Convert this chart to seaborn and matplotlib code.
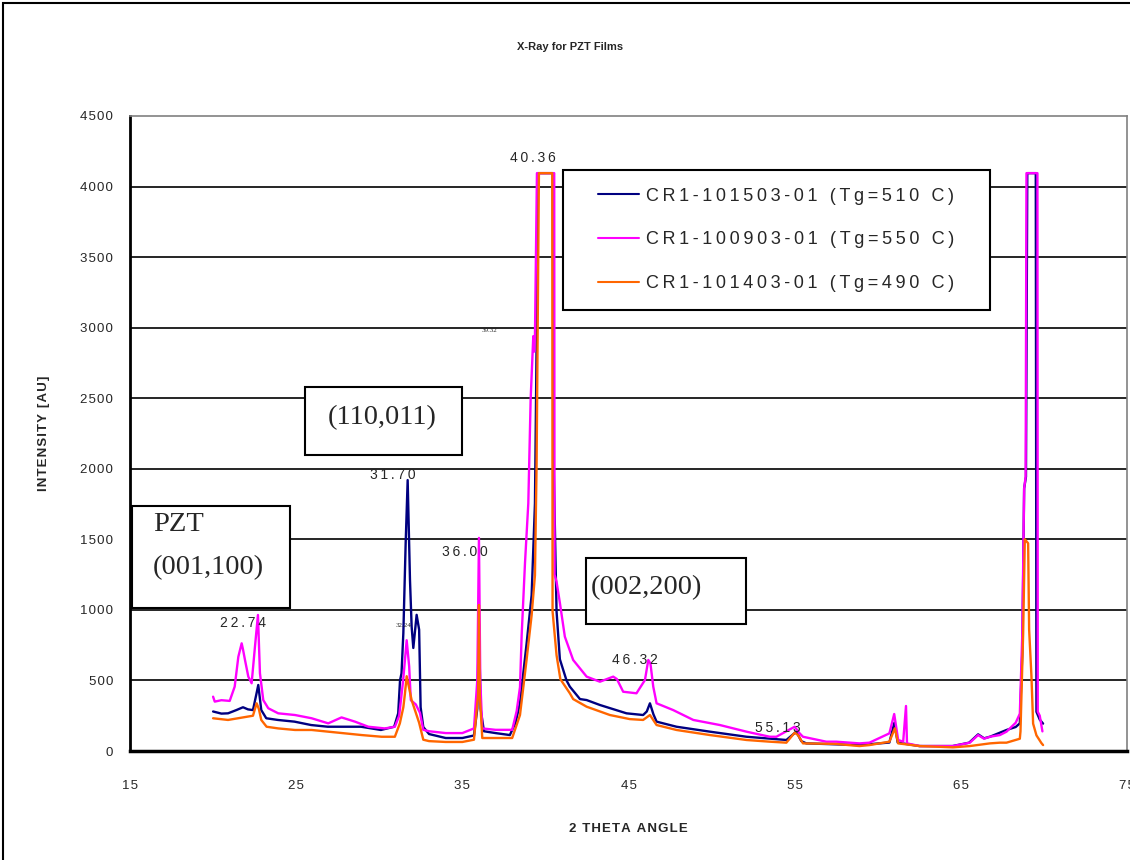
import pandas as pd
import matplotlib.pyplot as plt
import seaborn as sns
from matplotlib.patches import Rectangle

# ==========================================
# 1. DATA
# ==========================================
sample_names = ["CR1-101503-01 (Tg=510 C)",
                "CR1-100903-01 (Tg=550 C)",
                "CR1-101403-01 (Tg=490 C)"]
line_colors = ["#000080", "#FF00FF", "#FF6600"]

blue_theta = [20.0, 20.5, 20.9, 21.4, 21.8, 22.1, 22.4, 22.6, 22.72, 22.9, 23.2, 23.9,
              24.9, 25.9, 26.9, 27.9, 28.9, 30.1, 30.9, 31.14, 31.25, 31.34, 31.45,
              31.59, 31.71, 31.85, 31.95, 32.05, 32.25, 32.4, 32.49, 32.65, 33.0, 34.0,
              35.0, 35.7, 35.9, 36.0, 36.1, 36.3, 37.0, 37.86, 38.2, 38.47, 38.87, 39.17,
              39.37, 39.47, 39.55, 40.45, 40.5, 40.67, 40.87, 41.27, 41.47, 42.08, 42.48,
              43.28, 44.88, 45.88, 46.1, 46.29, 46.5, 46.69, 47.89, 49.9, 52.1, 54.5,
              55.1, 55.4, 55.7, 58.9, 60.7, 61.0, 61.2, 61.7, 62.5, 64.5, 65.5, 66.04,
              66.4, 66.75, 67.75, 68.3, 68.55, 68.7, 68.81, 68.92, 69.0, 69.51, 69.55,
              69.75, 69.95]
blue_counts = [280, 265, 267, 290, 310, 295, 290, 400, 468, 290, 232, 220,
               208, 184, 172, 172, 172, 149, 172, 267, 500, 551, 835,
               1475, 1920, 1210, 880, 730, 965, 860, 310, 170, 120, 92,
               92, 110, 300, 900, 300, 140, 127, 113, 200, 340, 764, 1104,
               1755, 2887, 4095, 4095, 2000, 990, 650, 500, 456, 368, 361,
               326, 267, 255, 280, 338, 260, 208, 172, 137, 101, 78,
               137, 70, 54, 42, 60, 200, 60, 50, 35, 35, 59, 118,
               90, 101, 149, 170, 196, 700, 1861, 1944, 4095, 4095, 278,
               222, 194]

magenta_theta = [20.0, 20.1, 20.5, 21.0, 21.3, 21.52, 21.72, 21.8, 21.92, 22.12, 22.32,
                 22.52, 22.7, 22.82, 23.02, 23.32, 23.92, 24.93, 25.93, 26.93, 27.73,
                 28.54, 29.34, 30.34, 30.94, 31.2, 31.44, 31.65, 31.8, 31.9, 32.2, 32.45,
                 32.65, 33.0, 34.0, 35.0, 35.7, 35.9, 36.0, 36.08, 36.2, 37.0, 38.0,
                 38.27, 38.47, 38.57, 38.77, 38.97, 39.11, 39.27, 39.32, 39.37, 39.49,
                 40.53, 40.55, 40.67, 40.87, 41.17, 41.67, 42.48, 43.28, 44.08, 44.3,
                 44.68, 45.48, 45.99, 46.19, 46.32, 46.49, 46.69, 47.69, 48.9, 50.5,
                 52.1, 53.5, 53.9, 55.0, 55.3, 55.5, 56.9, 57.5, 58.9, 59.5, 60.7, 60.99,
                 61.23, 61.53, 61.7, 61.76, 62.53, 64.53, 65.54, 66.04, 66.4, 66.75,
                 67.35, 67.75, 68.3, 68.55, 68.7, 68.81, 68.9, 68.95, 69.61, 69.63,
                 69.75, 69.91]
magenta_counts = [385, 350, 360, 355, 456, 668, 763, 720, 645, 527, 480,
                  739, 964, 551, 361, 303, 267, 255, 232, 196, 238,
                  208, 172, 160, 172, 250, 503, 785, 600, 360, 330, 270,
                  150, 140, 127, 127, 160, 500, 1510, 500, 160, 150, 150,
                  283, 453, 820, 1330, 1755, 2490, 2940, 2830, 2940, 4095,
                  4095, 1250, 1200, 1050, 810, 645, 527, 491, 527, 510,
                  420, 409, 503, 645, 620, 456, 338, 290, 220, 184,
                  137, 101, 101, 172, 125, 101, 66, 66, 54, 59, 125, 262,
                  78, 66, 319, 54, 35, 35, 59, 113, 87, 101,
                  113, 137, 200, 264, 833, 1861, 1944, 4095, 4095, 278,
                  250, 139]

orange_theta = [20.0, 20.9, 21.8, 22.4, 22.62, 22.75, 22.9, 23.22, 23.92, 24.93, 25.93,
                26.93, 27.94, 28.94, 30.14, 30.94, 31.24, 31.45, 31.54, 31.65, 31.95,
                32.4, 32.65, 33.0, 34.0, 35.0, 35.7, 35.95, 36.0, 36.05, 36.2, 37.0,
                38.0, 38.47, 38.87, 39.17, 39.37, 39.47, 39.61, 40.41, 40.43, 40.67,
                40.9, 41.47, 41.67, 42.48, 43.88, 45.08, 45.88, 46.29, 46.69, 47.89,
                49.9, 52.1, 53.5, 54.5, 55.0, 55.2, 55.5, 57.5, 58.9, 59.5, 60.7, 61.03,
                61.23, 62.53, 64.53, 65.54, 66.75, 67.35, 67.75, 68.55, 68.59, 68.75,
                68.85, 68.95, 69.05, 69.11, 69.25, 69.35, 69.55, 69.85, 69.95]
orange_counts = [232, 220, 238, 250, 338, 300, 220, 172, 160, 149, 149,
                 137, 125, 113, 101, 101, 196, 310, 400, 530, 360,
                 200, 80, 70, 64, 64, 80, 400, 1035, 400, 92, 92,
                 92, 255, 650, 962, 1245, 2038, 4095, 4095, 990, 679,
                 509, 409, 368, 314, 255, 226, 220, 255, 184, 149,
                 113, 78, 66, 59, 130, 113, 54, 50, 35, 42, 66, 161,
                 54, 35, 26, 35, 54, 59, 59, 87, 139, 833,
                 1500, 1486, 1472, 861, 528, 194, 111, 56, 42]

peak_labels = ["22.74", "31.70", "36.00", "40.36", "46.32", "55.13"]
peak_label_x = [21.8, 30.83, 35.18, 39.27, 45.39, 53.96]
peak_label_y = [907, 1956, 1410, 4203, 645, 163]

x_ticks = [15, 25, 35, 45, 55, 65, 75]
y_ticks = [0, 500, 1000, 1500, 2000, 2500, 3000, 3500, 4000, 4500]

frames = []
for name, tt, cc in zip(sample_names,
                        [blue_theta, magenta_theta, orange_theta],
                        [blue_counts, magenta_counts, orange_counts]):
    frames.append(pd.DataFrame({"two_theta": tt, "intensity": cc, "sample": name}))
df = pd.concat(frames, ignore_index=True)


def spaced(s, gap="\u2009"):
    # the original Excel chart uses letter-spaced text
    return gap.join(s)


HAIR = "\u200a"

# ==========================================
# 2. PLOT
# ==========================================
sns.set_theme(style="white")
plt.rcParams["font.family"] = ["Liberation Sans", "DejaVu Sans"]

fig = plt.figure(figsize=(11.3, 8.6), dpi=100)
ax = fig.add_axes([130 / 1130, 109 / 860, 997 / 1130, 635 / 860])

sns.lineplot(data=df, x="two_theta", y="intensity", hue="sample",
             hue_order=sample_names, palette=line_colors, sort=False,
             estimator=None, linewidth=1.7, ax=ax, zorder=3)

ax.set_xlim(15, 75)
ax.set_ylim(0, 4500)
ax.set_xticks(x_ticks)
ax.set_xticklabels([spaced(str(t), HAIR) for t in x_ticks], fontsize=9.5)
ax.set_yticks(y_ticks)
ax.set_yticklabels([spaced(str(t), HAIR) for t in y_ticks], fontsize=9.5)
ax.tick_params(axis="x", direction="out", length=5, width=1.5, pad=16, color="black")
ax.tick_params(axis="y", direction="out", length=5, width=1.5, pad=7, color="black")

ax.yaxis.grid(True, color="black", linewidth=1.2, zorder=1)
ax.set_axisbelow(True)
ax.get_ygridlines()[-1].set_visible(False)

ax.spines["left"].set_color("black")
ax.spines["left"].set_linewidth(2)
ax.spines["bottom"].set_color("black")
ax.spines["bottom"].set_linewidth(2.5)
ax.spines["top"].set_color("#808080")
ax.spines["right"].set_color("#808080")
ax.spines["top"].set_linewidth(1.2)
ax.spines["right"].set_linewidth(1.2)

ax.set_xlabel(spaced("2 THETA ANGLE", HAIR), fontsize=9.5, fontweight="bold",
              labelpad=22)
ax.set_ylabel(spaced("INTENSITY [AU]", HAIR), fontsize=9.5, fontweight="bold",
              labelpad=22)
fig.text(570 / 1130, 1 - 47 / 860, "X-Ray for PZT Films",
         fontsize=8, fontweight="bold", ha="center", va="center")

# peak position labels
for lab, px, py in zip(peak_labels, peak_label_x, peak_label_y):
    ax.text(px, py, spaced(lab), fontsize=10, ha="center", va="center", zorder=8)
ax.text(31.49, 886, "32.24", fontsize=5, family="Liberation Serif",
        ha="center", va="center", zorder=8)
ax.text(36.66, 2980, "39.32", fontsize=5, family="Liberation Serif",
        ha="center", va="center", zorder=8)

# reflection boxes
box_font = dict(family="Liberation Serif", fontsize=20.5, zorder=8)
for (x0, x1, y0, y1) in [(15.12, 24.63, 1013, 1736),
                         (25.53, 34.98, 2098, 2580),
                         (42.47, 52.1, 900, 1368)]:
    ax.add_patch(Rectangle((x0, y0), x1 - x0, y1 - y0, facecolor="white",
                           edgecolor="black", linewidth=1.5, zorder=6))
ax.text(16.38, 1602, "PZT", ha="left", va="center", **box_font)
ax.text(16.38, 1297, "(001,100)", ha="left", va="center", **box_font)
ax.text(30.16, 2360, "(110,011)", ha="center", va="center", **box_font)
ax.text(46.1, 1155, "(002,200)", ha="center", va="center", **box_font)

# legend with a hand-sized frame
ax.add_patch(Rectangle((0.4343, 0.6945), 0.4283, 0.2205, transform=ax.transAxes,
                       facecolor="white", edgecolor="black", linewidth=1.5, zorder=6))
handles, labels = ax.get_legend_handles_labels()
leg = ax.legend(handles, [spaced(l) for l in labels], loc="upper left",
                bbox_to_anchor=(0.4694, 0.887), frameon=False, fontsize=13,
                borderpad=0, borderaxespad=0, handlelength=2.27,
                handletextpad=0.4, labelspacing=1.48)
leg.set_zorder(7)
for h in leg.get_lines():
    h.set_linewidth(1.5)

# outer chart border
fig.patches.append(Rectangle((3 / 1130, -0.1), 1.2, 1.1 - 3 / 860,
                             transform=fig.transFigure, fill=False,
                             edgecolor="black", linewidth=1.5))

plt.savefig("out.png", dpi=100)
